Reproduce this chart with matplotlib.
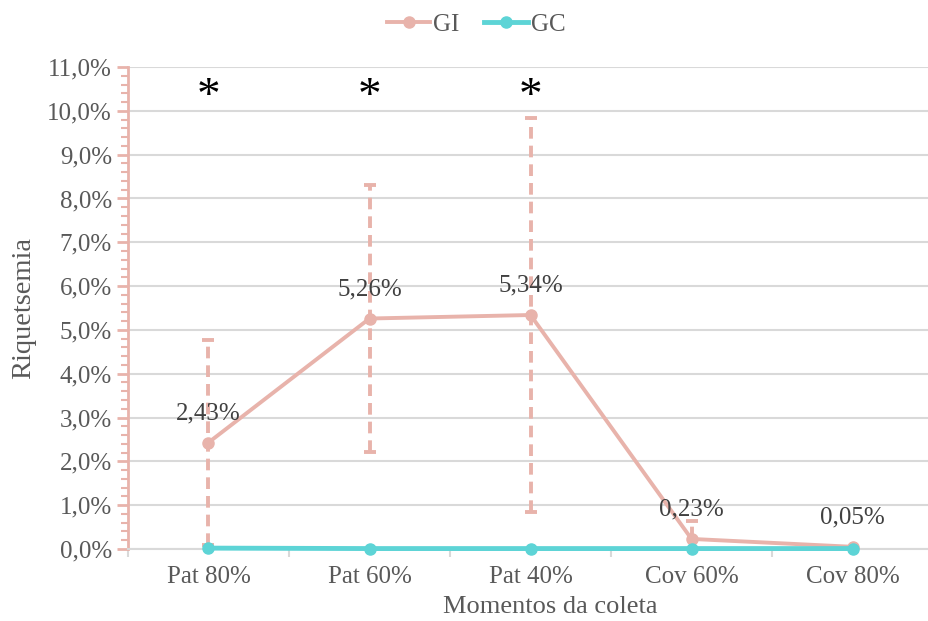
import matplotlib.pyplot as plt
from matplotlib.ticker import MultipleLocator, FuncFormatter

# dados
momentos = ['Pat 80%', 'Pat 60%', 'Pat 40%', 'Cov 60%', 'Cov 80%']
gi = [2.43, 5.26, 5.34, 0.23, 0.05]
gi_err = [2.35, 3.05, 4.50, 0.41, 0.0]
gc = [0.02, 0.01, 0.01, 0.01, 0.01]
gi_labels = ['2,43%', '5,26%', '5,34%', '0,23%', '0,05%']
signif = [0, 1, 2]  # momentos com diferenca significativa

cor_gi = '#E8B3AB'
cor_gc = '#5DD4D6'
cinza = '#595959'

plt.rcParams['font.family'] = ['Liberation Serif', 'DejaVu Serif']

fig = plt.figure(figsize=(9.29, 6.21), dpi=100)
ax = fig.add_axes([128 / 929, 1 - 549 / 621, (933 - 128) / 929, (549 - 67) / 621])

x = list(range(len(momentos)))

eb = ax.errorbar(x, gi, yerr=gi_err, fmt='none', ecolor=cor_gi, elinewidth=2.8,
                 capsize=4, capthick=2.8, zorder=2)
eb[2][0].set_linestyle((0, (3, 1.8)))

ax.plot(x, gi, color=cor_gi, lw=2.8, marker='o', ms=8, label='GI', zorder=3)
ax.plot(x, gc, color=cor_gc, lw=3.5, marker='o', ms=8, label='GC', zorder=4, clip_on=False)

for xi, yi, txt in zip(x, gi, gi_labels):
    ax.annotate(txt, (xi, yi), xytext=(0, 21), textcoords='offset points',
                ha='center', va='center', fontsize=18, color='#404040')

for xi in signif:
    ax.text(xi, 10.3, '*', ha='center', va='center', fontsize=34, color='black')

ax.set_xlim(-0.5, 4.5)
ax.set_ylim(0, 11)
ax.set_xticks(x)
ax.set_xticklabels(momentos)
ax.set_xticks([i - 0.5 for i in range(6)], minor=True)
ax.yaxis.set_major_locator(MultipleLocator(1))
ax.yaxis.set_minor_locator(MultipleLocator(0.2))
ax.yaxis.set_major_formatter(FuncFormatter(lambda v, p: f'{v:.1f}%'.replace('.', ',')))

ax.grid(axis='y', color='#D9D9D9', lw=1.5)
ax.set_axisbelow(True)
for s in ['top', 'right']:
    ax.spines[s].set_visible(False)
ax.spines['left'].set_color(cor_gi)
ax.spines['left'].set_linewidth(2)
ax.spines['bottom'].set_color('#D9D9D9')
ax.spines['bottom'].set_linewidth(1.5)

ax.tick_params(axis='y', which='major', colors=cor_gi, length=8, width=2,
               labelcolor=cinza, labelsize=18)
ax.tick_params(axis='y', which='minor', colors=cor_gi, length=5, width=1.5)
ax.tick_params(axis='x', which='major', length=0, labelcolor=cinza, labelsize=18, pad=12)
ax.tick_params(axis='x', which='minor', colors='#D9D9D9', length=6, width=1.5)

ax.set_xlabel('Momentos da coleta', fontsize=19, color=cinza)
ax.xaxis.set_label_coords(0.524, -0.098)
ax.set_ylabel('Riquetsemia', fontsize=20.5, color=cinza, labelpad=8)

fig.legend(loc='upper center', bbox_to_anchor=(476 / 929, 1.015), ncol=2, frameon=False,
           fontsize=18, handlelength=1.75, handletextpad=0.1, columnspacing=1.0,
           labelcolor=cinza)

fig.savefig('out.png', dpi=100)
